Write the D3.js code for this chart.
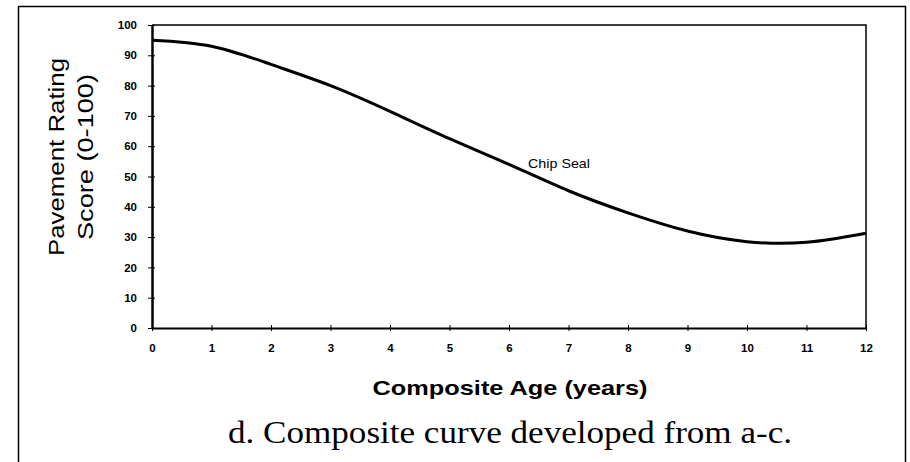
<!DOCTYPE html>
<html lang="en">
<head>
  <meta charset="UTF-8">
  <title>Composite curve</title>
  <script src="https://d3js.org/d3.v7.min.js"></script>
  <style>
    body { margin: 0; background: #fff; }
    text { fill: #000; }
  </style>
</head>
<body>
<div id="chart"></div>
<script>
  // composite age (years) and rating
  const ages = [0, 1, 2, 3, 4, 5, 6, 7, 8, 9, 10, 11, 12];
  const scores = [95, 93, 87, 80, 71.5, 62.5, 54, 45.3, 38, 32, 28.5, 28.3, 31.3];
  const xTicks = [0, 1, 2, 3, 4, 5, 6, 7, 8, 9, 10, 11, 12];
  const yTicks = [0, 10, 20, 30, 40, 50, 60, 70, 80, 90, 100];
  const seriesLabel = "Chip Seal";

  const width = 910, height = 462;
  const plot = {left: 152, right: 866, top: 25, bottom: 328};
  const sans = "Arial, 'Liberation Sans', sans-serif";

  const svg = d3.select("#chart").append("svg")
    .attr("width", width)
    .attr("height", height);

  // outer frame, open at the bottom
  svg.append("path")
    .attr("d", "M18.5,470 V6.5 H905.5 V470")
    .attr("fill", "none")
    .attr("stroke", "#000")
    .attr("stroke-width", 1.5);

  const x = d3.scaleLinear().domain([0, 12]).range([plot.left, plot.right]);
  const y = d3.scaleLinear().domain([0, 100]).range([plot.bottom, plot.top]);

  // plot border top / right
  svg.append("path")
    .attr("d", `M${plot.left},${plot.top} H${plot.right} V${plot.bottom}`)
    .attr("fill", "none")
    .attr("stroke", "#000")
    .attr("stroke-width", 1.5);

  const yAxis = svg.append("g")
    .attr("transform", `translate(${plot.left},0)`)
    .call(d3.axisLeft(y).tickValues(yTicks).tickSize(4).tickSizeOuter(0));
  yAxis.select(".domain").attr("stroke-width", 2.5);
  yAxis.selectAll(".tick line").attr("x2", 3).attr("x1", -4);
  yAxis.selectAll(".tick text")
    .attr("x", -15)
    .style("font", `bold 11.5px ${sans}`);

  const xAxis = svg.append("g")
    .attr("transform", `translate(0,${plot.bottom})`)
    .call(d3.axisBottom(x).tickValues(xTicks).tickSize(3).tickSizeOuter(0));
  xAxis.select(".domain").attr("stroke-width", 2);
  xAxis.selectAll(".tick line").attr("y1", -3).attr("y2", 3);
  xAxis.selectAll(".tick text")
    .attr("y", 16)
    .style("font", `bold 11.5px ${sans}`);

  const line = d3.line()
    .x((d, i) => x(ages[i]))
    .y(d => y(d))
    .curve(d3.curveNatural);

  svg.append("path")
    .datum(scores)
    .attr("d", line)
    .attr("fill", "none")
    .attr("stroke", "#000")
    .attr("stroke-width", 3);

  svg.append("text")
    .attr("x", 528)
    .attr("y", 168)
    .attr("textLength", 62)
    .attr("lengthAdjust", "spacingAndGlyphs")
    .style("font", `13px ${sans}`)
    .text(seriesLabel);

  // y title
  const yt = svg.append("text")
    .attr("transform", "translate(0,157) rotate(-90)")
    .attr("text-anchor", "middle")
    .style("font", `22px ${sans}`);
  yt.append("tspan").attr("x", 0).attr("y", 64)
    .attr("textLength", 198).attr("lengthAdjust", "spacingAndGlyphs")
    .text("Pavement Rating");
  yt.append("tspan").attr("x", 0).attr("y", 93)
    .attr("textLength", 166).attr("lengthAdjust", "spacingAndGlyphs")
    .text("Score (0-100)");

  svg.append("text")
    .attr("x", 510)
    .attr("y", 395)
    .attr("text-anchor", "middle")
    .attr("textLength", 275)
    .attr("lengthAdjust", "spacingAndGlyphs")
    .style("font", `bold 21px ${sans}`)
    .text("Composite Age (years)");

  svg.append("text")
    .attr("x", 510)
    .attr("y", 443)
    .attr("text-anchor", "middle")
    .attr("textLength", 564)
    .attr("lengthAdjust", "spacingAndGlyphs")
    .style("font", "31px 'Liberation Serif', 'Times New Roman', serif")
    .text("d.  Composite curve developed from a-c.");
</script>
</body>
</html>
